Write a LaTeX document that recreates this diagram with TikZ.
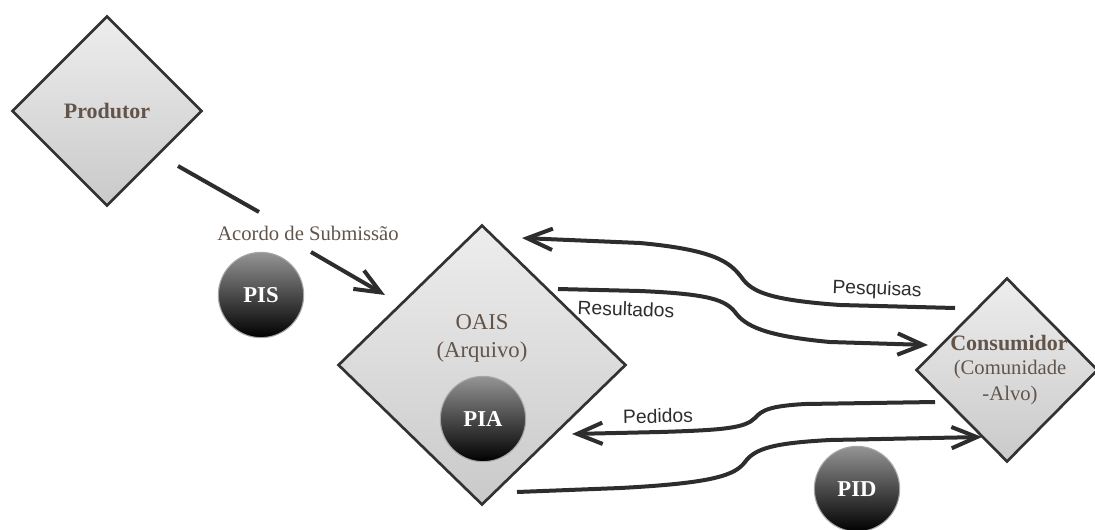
\documentclass[tikz,border=0pt]{standalone}
\usepackage{fontspec}
\setmainfont{Liberation Serif}
\newfontfamily\labelsans{Liberation Sans}
\usetikzlibrary{shapes.geometric,arrows.meta}

\definecolor{edge}{RGB}{50,50,50}
\definecolor{ink}{RGB}{98,84,74}
\definecolor{wire}{RGB}{45,45,45}

\tikzset{
  entity/.style={diamond, draw=edge, line width=2pt, top color=black!7,
    bottom color=black!21, inner sep=0pt},
  package/.style={circle, draw=black!35, line width=0.8pt, minimum size=64pt,
    inner sep=0pt, top color=black!42, middle color=black!88, bottom color=black,
    text=white, font=\bfseries\fontsize{17}{17}\selectfont},
  title/.style={text=ink, inner sep=0pt, font=\fontsize{17}{18}\selectfont},
  boldtitle/.style={title, font=\bfseries\fontsize{16.5}{18}\selectfont},
  subtitle/.style={title, font=\fontsize{15.5}{17}\selectfont},
  flowlabel/.style={text=wire, inner sep=0pt, font=\labelsans\fontsize{14.5}{16}\selectfont},
  flow/.style={draw=wire, line width=3pt},
  flowarrow/.style={flow, -{Straight Barb[length=19pt,width=16pt]}},
}

\begin{document}
\begin{tikzpicture}[x=0.75pt,y=-0.75pt]
  \useasboundingbox (0,0) rectangle (1095,529);

  % actors and the archive
  \node[entity, minimum width=142.5pt, minimum height=142.5pt] (prod) at (107,111) {};
  \node[boldtitle] (prodname) at (107,111) {Produtor};

  \node[entity, minimum width=216pt, minimum height=210pt] (oais) at (482,365) {};
  \node[title] (oaisname) at (482,322) {OAIS};
  \node[title] (oaissub) at (482,352) {(Arquivo)};

  \node[entity, minimum width=136.5pt, minimum height=138pt] (cons) at (1007,370) {};
  \node[boldtitle] (consname) at (1009,343) {Consumidor};
  \node[subtitle] (conssub1) at (1010,370) {(Comunidade};
  \node[subtitle] (conssub2) at (1010,396) {-Alvo)};

  % information packages
  \node[package] (pis) at (261,295) {PIS};
  \node[package] (pia) at (483,419) {PIA};
  \node[package] (pid) at (857,489) {PID};

  % submission agreement
  \coordinate (sub0) at (178,166);
  \coordinate (sub1) at (259,212);
  \coordinate (sub2) at (311,252);
  \coordinate (sub3) at (385,295);
  \draw[flow] (sub0) -- (sub1);
  \draw[flowarrow] (sub2) -- (sub3);
  \node[text=ink, inner sep=0pt, font=\fontsize{15.5}{17}\selectfont] (acordo) at (308,233) {Acordo de Submissão};

  % queries and results
  \coordinate (pq0) at (955,308);
  \coordinate (pq1) at (522,238);
  \draw[flowarrow] (pq0) -- (840,305) .. controls (770,300) and (752,292) .. (742,278)
    .. controls (730,262) and (715,250) .. (640,243) -- (pq1);
  \node[flowlabel, rotate=-2] (pesq) at (877,290) {Pesquisas};

  \coordinate (rs0) at (558,289);
  \coordinate (rs1) at (928,345);
  \draw[flowarrow] (rs0) -- (640,291) .. controls (710,294) and (725,300) .. (735,312)
    .. controls (745,326) and (765,336) .. (830,342) -- (rs1);
  \node[flowlabel, rotate=-2] (result) at (626,309) {Resultados};

  % orders and delivery
  \coordinate (pd0) at (935,402);
  \coordinate (pd1) at (572,434);
  \draw[flowarrow] (pd0) -- (805,404) .. controls (770,406) and (762,410) .. (755,418)
    .. controls (745,428) and (725,430) .. (660,432) -- (pd1);
  \node[flowlabel, rotate=1] (pedidos) at (658,416) {Pedidos};

  \coordinate (dl0) at (517,492);
  \coordinate (dl1) at (982,437);
  \draw[flowarrow] (dl0) -- (620,488) .. controls (715,483) and (735,475) .. (745,462)
    .. controls (755,448) and (775,443) .. (830,440) -- (dl1);
\end{tikzpicture}
\end{document}
